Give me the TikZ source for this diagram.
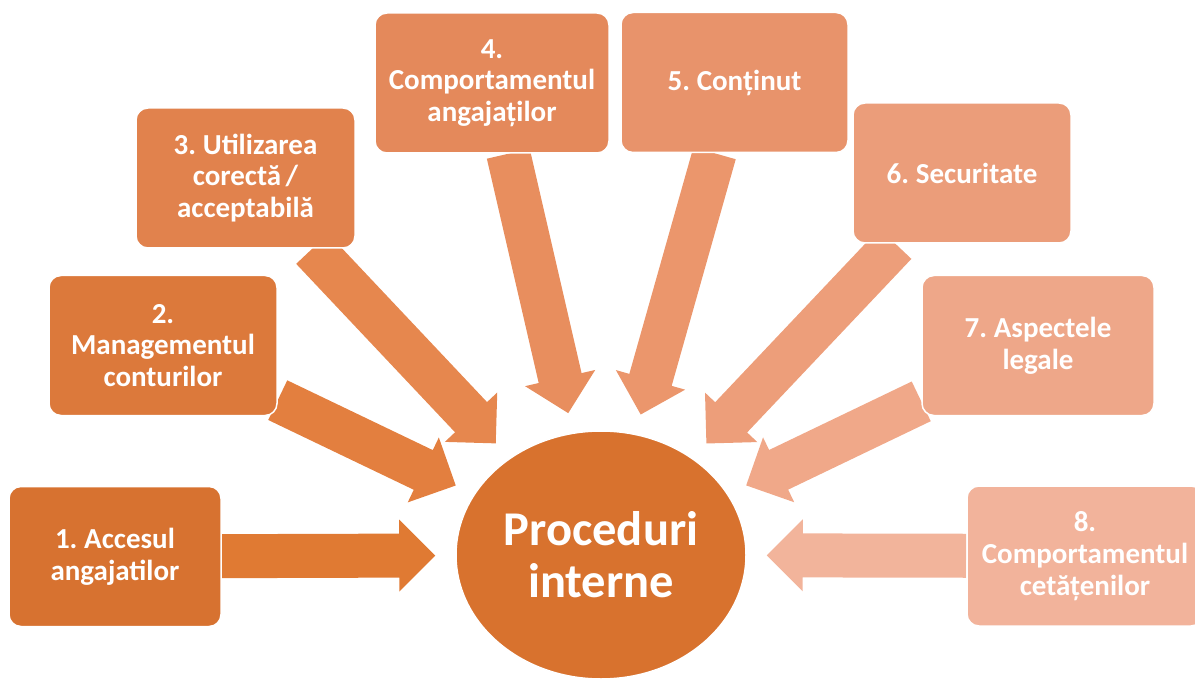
\documentclass[tikz,border=0pt]{standalone}
\usepackage{fontspec}
\setmainfont{Carlito}[WordSpace=0.7]
\usepackage{tikz}
\usetikzlibrary{calc,shapes.geometric,backgrounds}

\definecolor{ovalc}{RGB}{216,114,46}
\definecolor{b1}{RGB}{215,114,48}
\definecolor{b2}{RGB}{220,121,59}
\definecolor{b3}{RGB}{225,130,77}
\definecolor{b4}{RGB}{228,137,91}
\definecolor{b5}{RGB}{232,147,107}
\definecolor{b6}{RGB}{235,157,122}
\definecolor{b7}{RGB}{238,167,137}
\definecolor{b8}{RGB}{242,179,155}
\definecolor{a1}{RGB}{224,122,51}
\definecolor{a2}{RGB}{227,127,63}
\definecolor{a3}{RGB}{230,135,78}
\definecolor{a4}{RGB}{232,142,94}
\definecolor{a5}{RGB}{235,150,108}
\definecolor{a6}{RGB}{237,158,122}
\definecolor{a7}{RGB}{240,168,137}
\definecolor{a8}{RGB}{242,180,155}

\begin{document}
\begin{tikzpicture}[x=1pt,y=-1pt]
\tikzstyle{tema}=[rectangle,rounded corners=12pt,draw=white,line width=1.5pt,text=white,align=center,minimum height=140pt,inner sep=0pt,font=\bfseries\fontsize{29}{31.7}\selectfont]
\tikzstyle{oval}=[ellipse,draw=white,line width=1.5pt,fill=ovalc,text=white,align=center,minimum width=290pt,minimum height=248pt,inner sep=0pt,font=\bfseries\fontsize{48.5}{52}\selectfont]
\useasboundingbox (0,0) rectangle (1195,679);

\node[oval] (proc) at (601,555) {Proceduri\\interne};
\node[tema,fill=b1,minimum width=212pt] (acces) at (115,556.5) {1. Accesul\\angajatilor};
\node[tema,fill=b2,minimum width=228pt] (conturi) at (163,345.5) {2.\\Managementul\\conturilor};
\node[tema,fill=b3,minimum width=219pt] (utilizare) at (245.5,178) {3. Utilizarea\\corectă /\\acceptabilă};
\node[tema,fill=b4,minimum width=234pt] (angajati) at (492,83) {4.\\Comportamentul\\angajaților};
\node[tema,fill=b5,minimum width=227pt] (continut) at (734.5,82.5) {5. Conținut};
\node[tema,fill=b6,minimum width=218pt] (securitate) at (962,173) {6. Securitate};
\node[tema,fill=b7,minimum width=232pt] (legale) at (1038,345.5) {7. Aspectele\\legale};
\node[tema,fill=b8,minimum width=236pt] (cetateni) at (1085,556) {8.\\Comportamentul\\cetățenilor};

\begin{scope}[on background layer]
\foreach \nod/\col in {acces/a1,conturi/a2,utilizare/a3,angajati/a4,continut/a5,securitate/a6,legale/a7,cetateni/a8}{
  \path (\nod) -- coordinate[pos=0] (s) coordinate[pos=1] (e) (proc);
  \coordinate (v) at ($(e)!20pt!(s)$);
  \coordinate (h) at ($(v)!36pt!(s)$);
  \fill[\col] ($(s)!22pt!90:(v)$) -- ($(h)!22pt!90:(v)$) -- ($(h)!36pt!90:(v)$) -- (v)
    -- ($(h)!36pt!-90:(v)$) -- ($(h)!22pt!-90:(v)$) -- ($(s)!22pt!-90:(v)$) -- cycle;
}
\end{scope}
\end{tikzpicture}
\end{document}
